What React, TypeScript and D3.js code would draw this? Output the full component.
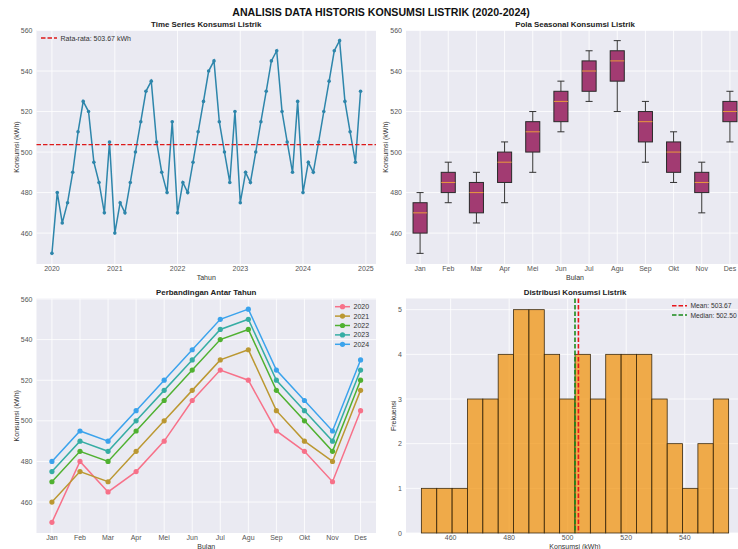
import React from 'react';
import * as d3 from 'd3';

const months = ['Jan', 'Feb', 'Mar', 'Apr', 'Mei', 'Jun', 'Jul', 'Agu', 'Sep', 'Okt', 'Nov', 'Des'];
const years = [2020, 2021, 2022, 2023, 2024];
const kons2020 = [450, 480, 465, 475, 490, 510, 525, 520, 495, 485, 470, 505];
const kons2021 = [460, 475, 470, 485, 500, 515, 530, 535, 505, 490, 480, 515];
const kons2022 = [470, 485, 480, 495, 510, 525, 540, 545, 515, 500, 485, 520];
const kons2023 = [475, 490, 485, 500, 515, 530, 545, 550, 520, 505, 490, 525];
const kons2024 = [480, 495, 490, 505, 520, 535, 550, 555, 525, 510, 495, 530];
const yearSeries = [kons2020, kons2021, kons2022, kons2023, kons2024];
const yearColors = ['#f77189', '#bb9832', '#50b131', '#36ada4', '#3ba3ec'];
const kwhTicks = [460, 480, 500, 520, 540, 560];
const yearTicks = [2020, 2021, 2022, 2023, 2024, 2025];
const histXTicks = [460, 480, 500, 520, 540];
const histYTicks = [0, 1, 2, 3, 4, 5];

const W = 738;
const H = 549;
const FONT = '"Liberation Sans", Arial, sans-serif';
const BG = '#EAEAF2';
const TICK = '#555';

// flat monthly series
const series = years.flatMap((yr, yi) =>
  yearSeries[yi].map((v, mi) => ({ date: new Date(yr, mi, 1), value: v }))
);
const allValues = series.map(d => d.value);
const mean = d3.mean(allValues)!;
const median = d3.median(allValues)!;
const vMin = d3.min(allValues)!;
const vMax = d3.max(allValues)!;
const pad = (vMax - vMin) * 0.05;

const panel = {
  tl: { l: 36.5, r: 376, t: 30, b: 264 },
  tr: { l: 406, r: 744, t: 30, b: 264 },
  bl: { l: 36.5, r: 376, t: 298.5, b: 533 },
  br: { l: 406, r: 744, t: 298.5, b: 533 },
};

function Frame({ p }: { p: { l: number; r: number; t: number; b: number } }) {
  return <rect x={p.l} y={p.t} width={p.r - p.l} height={p.b - p.t} fill={BG} />;
}

function Title({ p, text }: { p: any; text: string }) {
  return (
    <text x={(p.l + p.r) / 2} y={p.t - 3.5} textAnchor="middle" fontWeight="bold" fontSize={7.9} fill="#222">
      {text}
    </text>
  );
}

function YLabel({ x, p, text }: { x: number; p: any; text: string }) {
  const cy = (p.t + p.b) / 2;
  return (
    <text transform={`translate(${x},${cy}) rotate(-90)`} textAnchor="middle" fontSize={7} fill="#333">
      {text}
    </text>
  );
}

function YTicks({ p, scale, ticks }: { p: any; scale: any; ticks: number[] }) {
  return (
    <g>
      {ticks.map(t => (
        <g key={t}>
          <line x1={p.l} x2={p.r} y1={scale(t)} y2={scale(t)} stroke="#fff" strokeWidth={0.8} />
          <text x={p.l - 4} y={scale(t) + 2.5} textAnchor="end" fontSize={7} fill={TICK}>
            {t}
          </text>
        </g>
      ))}
    </g>
  );
}

function XTicks({ p, ticks, pos, labels, y }: { p: any; ticks: any[]; pos: (t: any) => number; labels: (t: any) => string; y: number }) {
  return (
    <g>
      {ticks.map((t, i) => (
        <g key={i}>
          <line x1={pos(t)} x2={pos(t)} y1={p.t} y2={p.b} stroke="#fff" strokeWidth={0.8} />
          <text x={pos(t)} y={y} textAnchor="middle" fontSize={7} fill={TICK}>
            {labels(t)}
          </text>
        </g>
      ))}
    </g>
  );
}

function TimeSeries() {
  const p = panel.tl;
  const d0 = series[0].date.getTime();
  const d1 = series[series.length - 1].date.getTime();
  const dp = (d1 - d0) * 0.05;
  const x = d3.scaleTime().domain([new Date(d0 - dp), new Date(d1 + dp)]).range([p.l, p.r]);
  const y = d3.scaleLinear().domain([vMin - pad, vMax + pad]).range([p.b, p.t]);
  const line = d3.line<{ date: Date; value: number }>().x(d => x(d.date)).y(d => y(d.value));
  return (
    <g>
      <Frame p={p} />
      <YTicks p={p} scale={y} ticks={kwhTicks} />
      <XTicks p={p} ticks={yearTicks} pos={t => x(new Date(t, 0, 1))} labels={t => String(t)} y={270.5} />
      <path d={line(series)!} fill="none" stroke="#2E86AB" strokeWidth={1.5} />
      {series.map((d, i) => (
        <circle key={i} cx={x(d.date)} cy={y(d.value)} r={1.8} fill="#2E86AB" />
      ))}
      <line x1={p.l} x2={p.r} y1={y(mean)} y2={y(mean)} stroke="#dd1a1a" strokeWidth={1.4} strokeDasharray="4.5,2" />
      <line x1={41} x2={57} y1={38} y2={38} stroke="#dd1a1a" strokeWidth={1.4} strokeDasharray="4.5,2" />
      <text x={60.5} y={40.5} fontSize={7} fill="#333">{`Rata-rata: ${mean.toFixed(2)} kWh`}</text>
      <Title p={p} text="Time Series Konsumsi Listrik" />
      <text x={(p.l + p.r) / 2} y={279.5} textAnchor="middle" fontSize={7} fill="#333">Tahun</text>
      <YLabel x={19} p={p} text="Konsumsi (kWh)" />
    </g>
  );
}

function Seasonal() {
  const p = panel.tr;
  const x = d3.scaleLinear().domain([0.5, 12.5]).range([p.l, p.r]);
  const y = d3.scaleLinear().domain([vMin - pad, vMax + pad]).range([p.b, p.t]);
  const stats = months.map((m, mi) => {
    const vals = yearSeries.map(s => s[mi]).sort(d3.ascending);
    const q1 = d3.quantile(vals, 0.25)!;
    const q2 = d3.quantile(vals, 0.5)!;
    const q3 = d3.quantile(vals, 0.75)!;
    const iqr = q3 - q1;
    const lo = d3.min(vals.filter(v => v >= q1 - 1.5 * iqr))!;
    const hi = d3.max(vals.filter(v => v <= q3 + 1.5 * iqr))!;
    return { m, i: mi + 1, q1, q2, q3, lo, hi };
  });
  const bw = x(1.25) - x(1);
  const cw = x(1.125) - x(1);
  return (
    <g>
      <Frame p={p} />
      <YTicks p={p} scale={y} ticks={kwhTicks} />
      <XTicks p={p} ticks={stats.map(s => s.i)} pos={t => x(t)} labels={t => months[t - 1]} y={270.5} />
      {stats.map(s => (
        <g key={s.m}>
          <line x1={x(s.i)} x2={x(s.i)} y1={y(s.q3)} y2={y(s.hi)} stroke="#333" strokeWidth={1} />
          <line x1={x(s.i)} x2={x(s.i)} y1={y(s.q1)} y2={y(s.lo)} stroke="#333" strokeWidth={1} />
          <line x1={x(s.i) - cw} x2={x(s.i) + cw} y1={y(s.hi)} y2={y(s.hi)} stroke="#333" strokeWidth={1} />
          <line x1={x(s.i) - cw} x2={x(s.i) + cw} y1={y(s.lo)} y2={y(s.lo)} stroke="#333" strokeWidth={1} />
          <rect x={x(s.i) - bw} y={y(s.q3)} width={2 * bw} height={y(s.q1) - y(s.q3)} fill="#A23B72" stroke="#2a2a2a" strokeWidth={1} />
          <line x1={x(s.i) - bw} x2={x(s.i) + bw} y1={y(s.q2)} y2={y(s.q2)} stroke="#e89a3c" strokeWidth={1} />
        </g>
      ))}
      <Title p={p} text="Pola Seasonal Konsumsi Listrik" />
      <text x={(p.l + p.r) / 2} y={279.5} textAnchor="middle" fontSize={7} fill="#333">Bulan</text>
      <YLabel x={387.5} p={p} text="Konsumsi (kWh)" />
    </g>
  );
}

function YearCompare() {
  const p = panel.bl;
  const x = d3.scaleLinear().domain([-0.55, 11.55]).range([p.l, p.r]);
  const y = d3.scaleLinear().domain([vMin - pad, vMax + pad]).range([p.b, p.t]);
  const line = d3.line<number>().x((_, i) => x(i)).y(d => y(d));
  return (
    <g>
      <Frame p={p} />
      <YTicks p={p} scale={y} ticks={kwhTicks} />
      <XTicks p={p} ticks={d3.range(12)} pos={t => x(t)} labels={t => months[t]} y={540} />
      {yearSeries.map((s, yi) => (
        <g key={yi}>
          <path d={line(s)!} fill="none" stroke={yearColors[yi]} strokeWidth={1.5} />
          {s.map((v, i) => (
            <circle key={i} cx={x(i)} cy={y(v)} r={2.6} fill={yearColors[yi]} />
          ))}
        </g>
      ))}
      {years.map((yr, yi) => {
        const ly = 306.7 + yi * 9.4;
        return (
          <g key={yr}>
            <line x1={335} x2={350} y1={ly} y2={ly} stroke={yearColors[yi]} strokeWidth={1.5} />
            <circle cx={342.5} cy={ly} r={2.6} fill={yearColors[yi]} />
            <text x={353.5} y={ly + 2.5} fontSize={7} fill="#333">{yr}</text>
          </g>
        );
      })}
      <Title p={p} text="Perbandingan Antar Tahun" />
      <text x={(p.l + p.r) / 2} y={548.5} textAnchor="middle" fontSize={7} fill="#333">Bulan</text>
      <YLabel x={18.5} p={p} text="Konsumsi (kWh)" />
    </g>
  );
}

function Distribution() {
  const p = panel.br;
  const nBins = 20;
  const step = (vMax - vMin) / nBins;
  const bins = d3
    .bin()
    .domain([vMin, vMax])
    .thresholds(d3.range(1, nBins).map(i => vMin + i * step))(allValues);
  const x = d3.scaleLinear().domain([vMin - pad, vMax + pad]).range([p.l, p.r]);
  const y = d3.scaleLinear().domain([0, (d3.max(bins, b => b.length) as number) * 1.05]).range([p.b, p.t]);
  return (
    <g>
      <Frame p={p} />
      <YTicks p={p} scale={y} ticks={histYTicks} />
      <XTicks p={p} ticks={histXTicks} pos={t => x(t)} labels={t => String(t)} y={540} />
      {bins.map((b, i) => (
        <rect
          key={i}
          x={x(b.x0!)}
          y={y(b.length)}
          width={x(b.x1!) - x(b.x0!)}
          height={y(0) - y(b.length)}
          fill="#F18F01"
          fillOpacity={0.7}
          stroke="#3a2a10"
          strokeWidth={0.8}
        />
      ))}
      <line x1={x(mean)} x2={x(mean)} y1={p.t} y2={p.b} stroke="#e8161b" strokeWidth={1.6} strokeDasharray="4.5,2" />
      <line x1={x(median)} x2={x(median)} y1={p.t} y2={p.b} stroke="#1a8a1a" strokeWidth={1.6} strokeDasharray="4.5,2" />
      <line x1={672} x2={687} y1={305.7} y2={305.7} stroke="#e8161b" strokeWidth={1.6} strokeDasharray="4.5,2" />
      <line x1={672} x2={687} y1={315} y2={315} stroke="#1a8a1a" strokeWidth={1.6} strokeDasharray="4.5,2" />
      <text x={690.5} y={308.2} fontSize={6.7} fill="#333">{`Mean: ${mean.toFixed(2)}`}</text>
      <text x={690.5} y={317.5} fontSize={6.7} fill="#333">{`Median: ${median.toFixed(2)}`}</text>
      <Title p={p} text="Distribusi Konsumsi Listrik" />
      <text x={(p.l + p.r) / 2} y={548.5} textAnchor="middle" fontSize={7} fill="#333">Konsumsi (kWh)</text>
      <YLabel x={396} p={p} text="Frekuensi" />
    </g>
  );
}

export default function App() {
  return (
    <svg
      width={W}
      height={H}
      style={{ position: 'absolute', left: 0, top: 0, background: '#fff' }}
      fontFamily={FONT}
    >
      <rect width={W} height={H} fill="#fff" />
      <text x={381} y={15.5} textAnchor="middle" fontWeight="bold" fontSize={10.6} fill="#111">
        ANALISIS DATA HISTORIS KONSUMSI LISTRIK (2020-2024)
      </text>
      <TimeSeries />
      <Seasonal />
      <YearCompare />
      <Distribution />
    </svg>
  );
}
